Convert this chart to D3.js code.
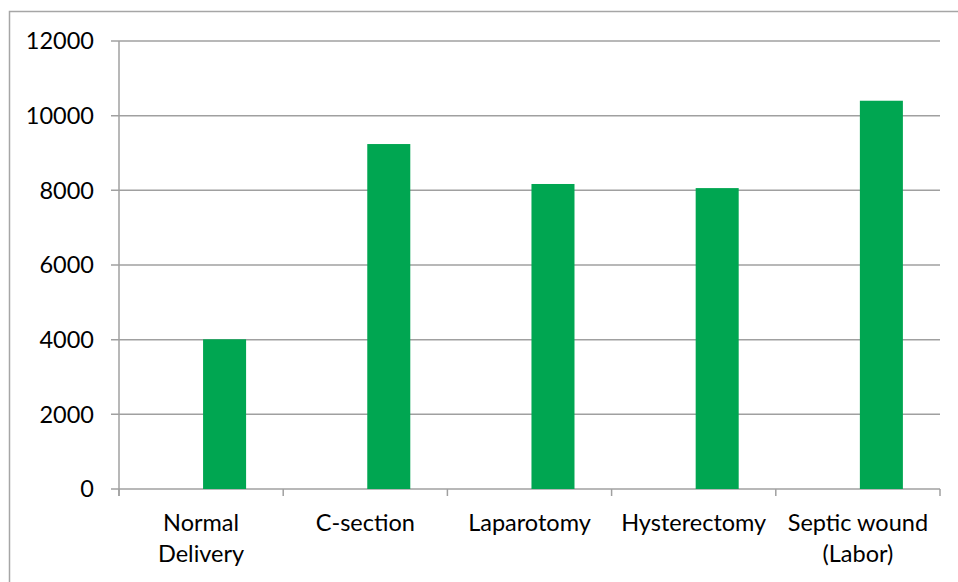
<!DOCTYPE html>
<html><head><meta charset="utf-8">
<script src="https://cdn.jsdelivr.net/npm/d3@7"></script>
<style>body{margin:0;background:#fff}svg{display:block}</style>
</head><body>
<svg id="chart" width="958" height="582"></svg>
<script>
const categories = [["Normal","Delivery"],["C-section"],["Laparotomy"],["Hysterectomy"],["Septic wound","(Labor)"]];
const values = [4010, 9240, 8170, 8060, 10400];
const yTicks = [0, 2000, 4000, 6000, 8000, 10000, 12000];

const svg = d3.select("#chart");
const mLeft = 119, mRight = 940, mTop = 41, mBottom = 489;
const font = "Lato, 'Open Sans', sans-serif";
const fs = 23.5;

svg.append("rect").attr("x", 9.5).attr("y", 11.5).attr("width", 958).attr("height", 600)
  .attr("fill", "#fff").attr("stroke", "#a6a6a6").attr("stroke-width", 1.5);

const keys = categories.map((c, i) => i);
const x = d3.scaleBand().domain(keys).range([mLeft, mRight]).paddingInner(0).paddingOuter(0);
const y = d3.scaleLinear().domain([0, 12000]).range([mBottom, mTop]);

// gridlines
svg.append("g").selectAll("line").data(yTicks).join("line")
  .attr("x1", mLeft - 8).attr("x2", mRight)
  .attr("y1", d => y(d)).attr("y2", d => y(d))
  .attr("stroke", "#a0a0a0").attr("stroke-width", 1.5);

// y axis line
svg.append("line").attr("x1", mLeft).attr("x2", mLeft).attr("y1", mTop).attr("y2", mBottom + 7)
  .attr("stroke", "#a0a0a0").attr("stroke-width", 1.5);

// category ticks
const bounds = keys.map(k => x(k)).concat([mRight]);
svg.append("g").selectAll("line").data(bounds).join("line")
  .attr("x1", d => d).attr("x2", d => d).attr("y1", mBottom).attr("y2", mBottom + 7)
  .attr("stroke", "#a0a0a0").attr("stroke-width", 1.5);

// bars (second slot of a two-series group)
const bw = x.bandwidth();
svg.append("g").selectAll("rect").data(values).join("rect")
  .attr("x", (d, i) => x(i) + bw * 0.512)
  .attr("width", bw * 0.262)
  .attr("y", d => y(d))
  .attr("height", d => y(0) - y(d))
  .attr("fill", "#00a651");

// y labels
svg.append("g").selectAll("text").data(yTicks).join("text")
  .attr("x", 94).attr("y", d => y(d)).attr("dy", "0.35em")
  .attr("text-anchor", "end").attr("font-family", font).attr("font-size", fs)
  .attr("fill", "#000").text(d => d);

// x labels
const xl = svg.append("g").selectAll("text").data(categories).join("text")
  .attr("x", (d, i) => x(i) + bw / 2).attr("y", 531)
  .attr("text-anchor", "middle").attr("font-family", font).attr("font-size", fs).attr("fill", "#000");
xl.selectAll("tspan").data(d => d).join("tspan")
  .attr("x", function() { return d3.select(this.parentNode).attr("x"); })
  .attr("dy", (d, j) => j === 0 ? 0 : 31).text(d => d);
</script>
</body></html>
